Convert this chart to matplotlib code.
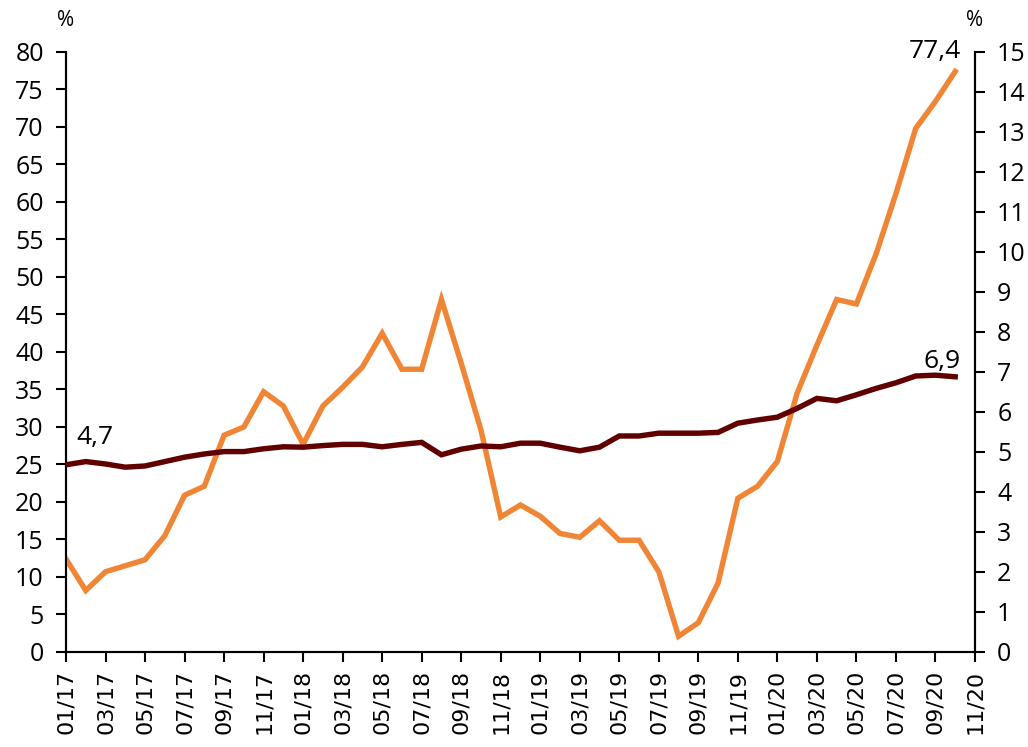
import numpy as np
import matplotlib
matplotlib.use("Agg")
import matplotlib.pyplot as plt

# monthly labels 01/17 .. 10/20
months = [f"{m:02d}/{y}" for y in range(17, 21) for m in range(1, 13)][:46]
tick_labels = [f"{m:02d}/{y}" for y in range(17, 21) for m in range(1, 13, 2)]

# left axis series (orange)
orange_vals = [12.4, 8.2, 10.7, 11.5, 12.3, 15.5, 20.9, 22.1, 28.9, 30.0,
               34.7, 32.8, 27.7, 32.8, 35.3, 38.0, 42.5, 37.7, 37.7, 47.0,
               38.5, 29.6, 18.0, 19.6, 18.1, 15.8, 15.3, 17.5, 14.9, 14.9,
               10.7, 2.1, 3.9, 9.2, 20.5, 22.1, 25.4, 34.5, 40.9, 47.0,
               46.4, 53.1, 61.1, 69.8, 73.4, 77.4]
# right axis series (dark red)
red_vals = [4.68, 4.76, 4.70, 4.62, 4.65, 4.76, 4.87, 4.95, 5.01, 5.01,
            5.08, 5.13, 5.12, 5.16, 5.19, 5.19, 5.13, 5.19, 5.24, 4.93,
            5.07, 5.15, 5.13, 5.22, 5.22, 5.12, 5.03, 5.12, 5.40, 5.40,
            5.47, 5.47, 5.47, 5.49, 5.72, 5.80, 5.87, 6.09, 6.34, 6.28,
            6.43, 6.59, 6.73, 6.90, 6.92, 6.88]

orange = "#F08536"
dark_red = "#600000"
yfont = "Open Sans"
fs = 18

x = np.arange(len(months))

fig = plt.figure(figsize=(10.28, 7.47), dpi=100)
ax = fig.add_axes([0.0642, 0.1272, 0.8842, 0.8032])
ax2 = ax.twinx()

ax.plot(x, orange_vals, color=orange, lw=3.9, solid_joinstyle="miter", zorder=3)
ax2.plot(x, red_vals, color=dark_red, lw=3.9, solid_joinstyle="miter", zorder=3)

ax.set_xlim(0, 46)
ax.set_ylim(0, 80)
ax2.set_ylim(0, 15)
ax.set_yticks(np.arange(0, 81, 5))
ax2.set_yticks(np.arange(0, 16, 1))
ax.set_xticks(np.arange(0, 47, 2))
ax.set_xticklabels(tick_labels, rotation=90, fontsize=16, family="DejaVu Sans")

for a in (ax, ax2):
    a.spines["top"].set_visible(False)
    for s in a.spines.values():
        s.set_linewidth(1.5)
    a.tick_params(axis="both", direction="out", length=7, width=1.5)
    a.tick_params(axis="y", pad=9)
    for lab in a.get_yticklabels():
        lab.set_fontfamily(yfont)
        lab.set_fontsize(fs)
ax.tick_params(axis="x", pad=6)

# series labels
ax2.text(0.5, 5.05, "4,7", fontsize=19, family=yfont, ha="left", va="bottom")
ax.text(45.3, 78.4, "77,4", fontsize=19, family=yfont, ha="right", va="bottom")
ax2.text(45.3, 6.95, "6,9", fontsize=19, family=yfont, ha="right", va="bottom")

# units
ax.text(0, 1.035, "%", transform=ax.transAxes, fontsize=15, family=yfont,
        ha="center", va="bottom")
ax.text(1, 1.035, "%", transform=ax.transAxes, fontsize=15, family=yfont,
        ha="center", va="bottom")

fig.savefig("out.png", dpi=100)
plt.close(fig)
